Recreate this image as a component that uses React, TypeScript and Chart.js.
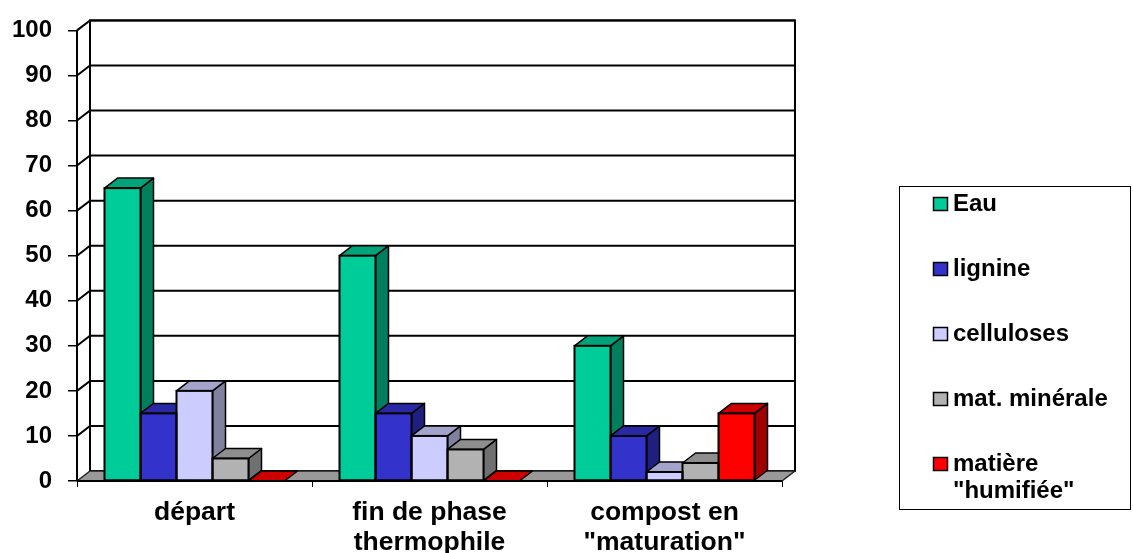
import { useEffect, useRef } from "react";
import { Chart, registerables } from "chart.js";

Chart.register(...registerables);

// ---- data ----
const categories: string[][] = [["départ"], ["fin de phase", "thermophile"], ["compost en", "\"maturation\""]];
const seriesNames = ["Eau", "lignine", "celluloses", "mat. minérale", "matière \"humifiée\""];
const legendLines: string[][] = [["Eau"], ["lignine"], ["celluloses"], ["mat. minérale"], ["matière", "\"humifiée\""]];
const eau = [65, 50, 30];
const lignine = [15, 15, 10];
const celluloses = [20, 10, 2];
const matMinerale = [5, 7, 4];
const matiereHumifiee = [0, 0, 15];
const yMin = 0;
const yMax = 100;
const yStep = 10;

// ---- styles ----
const frontColors = ["#00CC99", "#3333CC", "#CCCCFF", "#B2B2B2", "#FF0000"];
const topColors = ["#00A37A", "#2929A3", "#A3A3CC", "#8E8E8E", "#CC0000"];
const sideColors = ["#007F5F", "#1F1F7F", "#80809F", "#707070", "#9F0000"];
const FONT = "'Liberation Sans', Arial, sans-serif";
const DX = 13;
const DY = -10;

function poly(ctx: CanvasRenderingContext2D, pts: number[][], fill: string | null, stroke: string | null, lw = 1.5) {
  ctx.beginPath();
  ctx.moveTo(pts[0][0], pts[0][1]);
  for (let i = 1; i < pts.length; i++) ctx.lineTo(pts[i][0], pts[i][1]);
  ctx.closePath();
  if (fill) {
    ctx.fillStyle = fill;
    ctx.fill();
  }
  if (stroke) {
    ctx.strokeStyle = stroke;
    ctx.lineWidth = lw;
    ctx.lineJoin = "round";
    ctx.stroke();
  }
}

const threeD = {
  id: "threeD",
  beforeDatasetsDraw(chart: any) {
    const { ctx, chartArea } = chart;
    const { left: L, right: R, top: T, bottom: B } = chartArea;
    const y = chart.scales.y;
    ctx.save();
    // back wall
    ctx.fillStyle = "#ffffff";
    ctx.fillRect(L + DX, T + DY, R - L, B - T);
    // side wall
    poly(ctx, [[L, T], [L + DX, T + DY], [L + DX, B + DY], [L, B]], "#ffffff", null);
    // gridlines
    ctx.strokeStyle = "#000";
    ctx.lineWidth = 2;
    y.ticks.forEach((t: any) => {
      if (t.value === yMin) return;
      const yy = y.getPixelForValue(t.value);
      ctx.beginPath();
      ctx.moveTo(L, yy);
      ctx.lineTo(L + DX, yy + DY);
      ctx.lineTo(R + DX, yy + DY);
      ctx.stroke();
    });
    // back wall border & side wall verticals
    ctx.strokeRect(L + DX, T + DY, R - L, B - T);
    ctx.beginPath();
    ctx.moveTo(L, T);
    ctx.lineTo(L, B);
    ctx.stroke();
    // floor
    poly(ctx, [[L, B], [R, B], [R + DX, B + DY], [L + DX, B + DY]], "#999999", "#222", 1.5);
    // bar sides and tops
    chart.data.datasets.forEach((_ds: any, di: number) => {
      const meta = chart.getDatasetMeta(di);
      meta.data.forEach((bar: any) => {
        const p = bar.getProps(["x", "y", "base", "width"], true);
        const l = p.x - p.width / 2;
        const r = p.x + p.width / 2;
        const top = p.y;
        const base = p.base;
        if (base - top > 0.5) {
          poly(ctx, [[r, top], [r + DX, top + DY], [r + DX, base + DY], [r, base]], sideColors[di], "#000", 1.5);
        }
        poly(ctx, [[l, top], [r, top], [r + DX, top + DY], [l + DX, top + DY]], topColors[di], "#000", 1.5);
      });
    });
    ctx.restore();
  },
  afterDatasetsDraw(chart: any) {
    const { ctx } = chart;
    ctx.save();
    ctx.strokeStyle = "#000";
    ctx.lineWidth = 2;
    chart.data.datasets.forEach((_ds: any, di: number) => {
      const meta = chart.getDatasetMeta(di);
      meta.data.forEach((bar: any) => {
        const p = bar.getProps(["x", "y", "base", "width"], true);
        const l = p.x - p.width / 2;
        const h = p.base - p.y;
        if (h > 0.5) ctx.strokeRect(l, p.y, p.width, h);
      });
    });
    // front floor edge
    const { left: L, right: R, bottom: B } = chart.chartArea;
    ctx.beginPath();
    ctx.moveTo(L, B);
    ctx.lineTo(R, B);
    ctx.stroke();
    ctx.restore();
  },
  afterDraw(chart: any) {
    const { ctx } = chart;
    ctx.save();
    const bx = 899;
    const by = 186;
    const bw = 231;
    const bh = 323;
    ctx.strokeStyle = "#000";
    ctx.lineWidth = 1;
    ctx.strokeRect(bx + 0.5, by + 0.5, bw, bh);
    ctx.font = `bold 24px ${FONT}`;
    ctx.textBaseline = "middle";
    ctx.textAlign = "left";
    chart.data.datasets.forEach((ds: any, i: number) => {
      const cy = by + 18 + i * 65;
      ctx.fillStyle = frontColors[i];
      ctx.fillRect(933.5, cy - 6.5, 14, 13);
      ctx.strokeStyle = "#000";
      ctx.lineWidth = 1.5;
      ctx.strokeRect(933.5, cy - 6.5, 14, 13);
      ctx.fillStyle = "#000";
      legendLines[i].forEach((line, k) => {
        ctx.fillText(line, 953, cy + k * 27);
      });
    });
    ctx.restore();
  },
};

export default function App() {
  const ref = useRef<HTMLCanvasElement | null>(null);
  useEffect(() => {
    if (!ref.current) return;
    const seriesValues = [eau, lignine, celluloses, matMinerale, matiereHumifiee];
    const chart = new Chart(ref.current, {
      type: "bar",
      data: {
        labels: categories,
        datasets: seriesNames.map((name, i) => ({
          label: name,
          data: seriesValues[i],
          backgroundColor: frontColors[i],
          borderWidth: 0,
          categoryPercentage: 0.766,
          barPercentage: 1.0,
        })),
      },
      options: {
        responsive: false,
        animation: false,
        layout: { padding: { left: 0, right: 351, top: 28, bottom: 0 } },
        plugins: {
          legend: { display: false },
          tooltip: { enabled: false },
        },
        scales: {
          x: {
            offset: true,
            grid: {
              offset: true,
              drawOnChartArea: false,
              drawTicks: true,
              tickLength: 6,
              color: "#000",
              lineWidth: 1,
            },
            border: { display: false },
            ticks: {
              color: "#000",
              font: { family: FONT, size: 26.5, weight: "bold", lineHeight: 1.12 },
              padding: 11,
              maxRotation: 0,
              autoSkip: false,
            },
            afterFit: (s: any) => {
              s.height = 72;
            },
          },
          y: {
            min: yMin,
            max: yMax,
            grid: {
              drawOnChartArea: false,
              drawTicks: true,
              tickLength: 9,
              color: "#000",
              lineWidth: 1.5,
            },
            border: { display: false },
            ticks: {
              stepSize: yStep,
              color: "#000",
              font: { family: FONT, size: 24, weight: "bold" },
              padding: 16,
            },
            afterFit: (s: any) => {
              s.width = 77;
            },
          },
        },
      },
      plugins: [threeD],
    });
    return () => chart.destroy();
  }, []);
  return (
    <div style={{ position: "fixed", left: 0, top: 0, width: 1133, height: 553, background: "#fff" }}>
      <canvas ref={ref} width={1133} height={553} style={{ display: "block" }} />
    </div>
  );
}
